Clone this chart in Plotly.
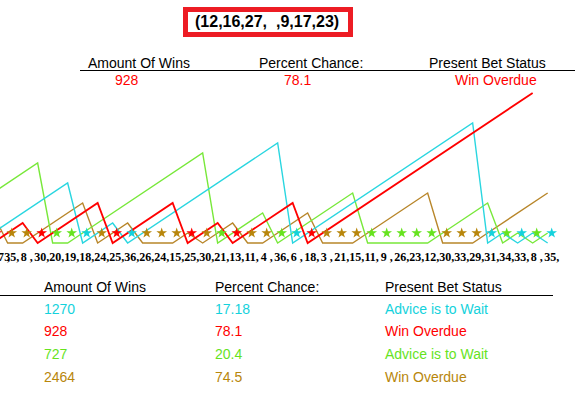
import plotly.graph_objects as go

W, H = 585, 393

# ---------------- data ----------------
spins = ["7", "35", "8", "30", "20", "19", "18", "24", "25", "36", "26", "24", "15",
         "25", "30", "21", "13", "11", "4", "36", "6", "18", "3", "21", "15", "11",
         "9", "26", "23", "12", "30", "33", "29", "31", "34", "33", "8", "35"]

cyan_vals = [1, 2, 3, 4, 5, 6, 0, 1, 2, 0, 1, 2, 3, 4, 5, 6, 7, 8, 9, 10, 0, 1, 2, 3,
             4, 5, 6, 7, 8, 9, 10, 11, 12, 0, 1, 0, 1, 0]
red_vals = [0, 1, 2, 0, 1, 2, 3, 4, 0, 1, 2, 3, 4, 0, 1, 2, 0, 1, 2, 3, 4, 0, 1, 2,
            3, 4, 5, 6, 7, 8, 9, 10, 11, 12, 13, 14, 15]
green_vals = [5, 6, 7, 8, 0, 0, 1, 2, 3, 4, 5, 6, 7, 8, 9, 0, 1, 2, 3, 0, 1, 2, 3, 4,
              5, 0, 0, 0, 0, 0, 1, 2, 3, 4, 0, 1, 0, 1]
brown_vals = [3, 0, 0, 1, 2, 3, 4, 0, 1, 2, 0, 0, 0, 1, 0, 1, 2, 0, 0, 1, 2, 3, 0, 0,
              0, 1, 2, 3, 4, 5, 0, 0, 0, 1, 2, 3, 4, 5]

hit_group = ["red", "brown", "brown", "red", "green", "green", "cyan", "brown", "red",
             "cyan", "brown", "brown", "brown", "red", "brown", "green", "red", "brown",
             "brown", "green", "cyan", "red", "brown", "brown", "brown", "green", "green",
             "green", "green", "green", "brown", "brown", "brown", "cyan", "green", "cyan",
             "green", "cyan"]

groups = ["cyan", "red", "green", "brown"]
amount_wins = ["1270", "928", "727", "2464"]
percent_chance = ["17.18", "78.1", "20.4", "74.5"]
bet_status = ["Advice is to Wait", "Win Overdue", "Advice is to Wait", "Win Overdue"]
selected_group = "red"
title_text = "(12,16,27,\u00a0\u00a0,9,17,23)"
headers = ["Amount Of Wins", "Percent Chance:", "Present Bet Status"]

# ---------------- style ----------------
colors = {"cyan": "#14D2DC", "red": "#FF0000", "green": "#66E31E", "brown": "#B8860B"}
line_colors = {"cyan": "#2AD6E0", "red": "#FF0000", "green": "#78E83A", "brown": "#B8862A"}
series = {"cyan": cyan_vals, "red": red_vals, "green": green_vals, "brown": brown_vals}
LINE_SHIFT = -0.27
STAR_LEVEL = 1

MT, MB = 80, 145
PH = H - MT - MB


def px_x(p):
    return p / W


def px_y(p):
    return (H - MB - p) / PH


fig = go.Figure()

for g in ["brown", "green", "cyan", "red"]:
    vals = series[g]
    fig.add_trace(go.Scatter(
        x=[i + LINE_SHIFT for i in range(len(vals))], y=vals, mode="lines",
        line=dict(color=line_colors[g], width=1.8 if g == "red" else 1.4),
        hoverinfo="skip", showlegend=False))

for g in groups:
    xs = [i for i, h in enumerate(hit_group) if h == g]
    fig.add_trace(go.Scatter(
        x=xs, y=[STAR_LEVEL] * len(xs), mode="markers",
        marker=dict(symbol="star", size=8, color=colors[g], line=dict(width=0)),
        hoverinfo="skip", showlegend=False))


def lab(s):
    return (s + " ,") if len(s) == 1 else (s + ",")


ticktext = [lab(s) for s in spins]

annotations = []


def txt(x, y, t, color="black", size=14, bold=False, family="Liberation Sans", anchor="left"):
    annotations.append(dict(
        xref="paper", yref="paper", x=px_x(x), y=px_y(y), text=t,
        showarrow=False, xanchor=anchor, yanchor="middle",
        font=dict(family=family, size=size, color=color,
                  weight="bold" if bold else "normal")))


# first x label, partly cut at the left edge as in the reference
txt(-4, 257, ticktext[0], size=12, bold=True, family="Liberation Serif", anchor="left")

# title
txt(267, 22, title_text, size=16, bold=True, anchor="center")

# top summary
sel = groups.index(selected_group)
top_hx = [86, 257, 426.5]
top_vx = [113, 282, 452.6]
top_vals = [amount_wins[sel], percent_chance[sel], bet_status[sel]]
for hx, h in zip(top_hx, headers):
    txt(hx, 63, h)
for vx, v in zip(top_vx, top_vals):
    txt(vx, 80, v, color=colors[selected_group])

# bottom table
bot_x = [42, 213, 383]
for hx, h in zip(bot_x, headers):
    txt(hx, 287, h)
row_y = [309, 331, 354, 377]
for r, g in enumerate(groups):
    for cx, v in zip(bot_x, [amount_wins[r], percent_chance[r], bet_status[r]]):
        txt(cx, row_y[r], v, color=colors[g])

shapes = [
    dict(type="rect", xref="paper", yref="paper",
         x0=px_x(185.5), x1=px_x(350.5), y0=px_y(9.5), y1=px_y(34.5),
         line=dict(color="#ED1C24", width=5)),
    dict(type="line", xref="paper", yref="paper",
         x0=px_x(80), x1=px_x(575), y0=px_y(70.5), y1=px_y(70.5),
         line=dict(color="black", width=1)),
    dict(type="line", xref="paper", yref="paper",
         x0=px_x(0), x1=px_x(553), y0=px_y(295.5), y1=px_y(295.5),
         line=dict(color="black", width=1)),
]

fig.update_layout(
    width=W, height=H, autosize=False,
    margin=dict(l=0, r=0, t=MT, b=MB, pad=0),
    paper_bgcolor="white", plot_bgcolor="white",
    showlegend=False,
    annotations=annotations, shapes=shapes,
    xaxis=dict(range=[0.22, 39.22], tickmode="array",
               tickvals=list(range(len(spins))), ticktext=ticktext,
               tickangle=0, ticks="", showgrid=False, zeroline=False, showline=False,
               tickfont=dict(family="Liberation Serif", size=12, color="black", weight="bold"),
               fixedrange=True),
    yaxis=dict(range=[-0.5, 16.3], visible=False, fixedrange=True),
)

fig.write_html(
    "out.html",
    config={"displayModeBar": False},
    post_script="document.documentElement.style.margin='0';document.body.style.margin='0';"
                "document.body.style.overflow='hidden';",
)
